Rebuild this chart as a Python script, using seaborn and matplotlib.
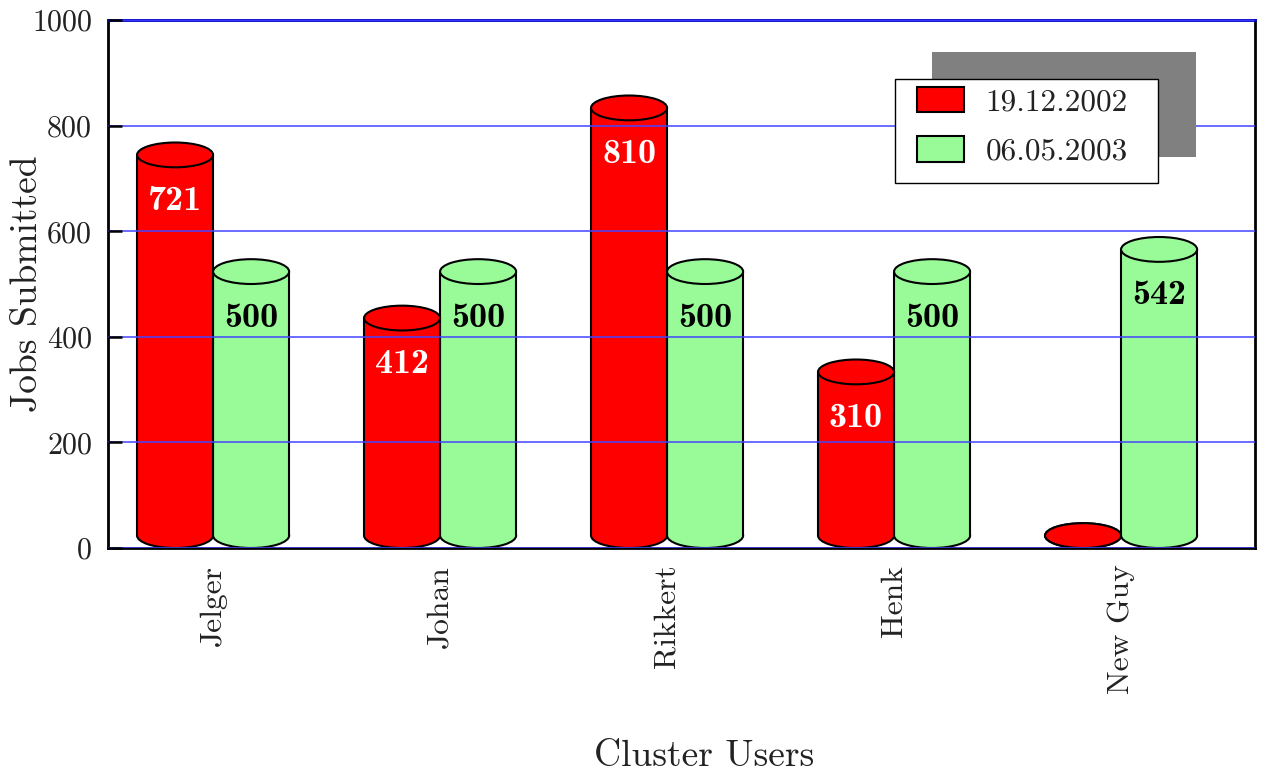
import numpy as np
import pandas as pd
import matplotlib
matplotlib.use("Agg")
import matplotlib.pyplot as plt
import seaborn as sns
from matplotlib.patches import Ellipse, Rectangle, Patch

# ---- data ----
users = ["Jelger", "Johan", "Rikkert", "Henk", "New Guy"]
dates = ["19.12.2002", "06.05.2003"]
jobs_2002 = [721, 412, 810, 310, 0]
jobs_2003 = [500, 500, 500, 500, 542]
y_ticks = [0, 200, 400, 600, 800, 1000]

RED = "#ff0000"
GREEN = "#98fb98"
TXT = "#222222"

sns.set_style("white")
plt.rcParams["font.family"] = ["cmr10", "DejaVu Serif"]
plt.rcParams["axes.formatter.use_mathtext"] = True
plt.rcParams["mathtext.fontset"] = "cm"

df = pd.DataFrame({
    "user": users * 2,
    "jobs": jobs_2002 + jobs_2003,
    "date": [dates[0]] * len(users) + [dates[1]] * len(users),
})

fig = plt.figure(figsize=(12.75, 7.76), dpi=100)
ax = fig.add_axes([108 / 1275, 1 - 548 / 776, 1147 / 1275, 528 / 776])

CAP = 23.5  # half-height of cylinder end caps (data units)

sns.barplot(data=df, x="user", y="jobs", hue="date", order=users,
            hue_order=dates, palette=[RED, GREEN], saturation=1, width=0.67,
            gap=0, bottom=CAP, linewidth=0, edgecolor="none", errorbar=None,
            legend=False, ax=ax, zorder=1)

LW = 1.5
for container, color, vals, tcol in zip(ax.containers, [RED, GREEN],
                                        [jobs_2002, jobs_2003],
                                        ["white", "black"]):
    for bar, v in zip(container, vals):
        x0 = bar.get_x()
        w = bar.get_width()
        y0 = bar.get_y()
        h = bar.get_height()
        cx = x0 + w / 2
        ax.add_patch(Ellipse((cx, y0), w, 2 * CAP, facecolor=color,
                             edgecolor="black", lw=LW, zorder=0.9))
        if h > 0:
            ax.plot([x0, x0], [y0, y0 + h], color="black", lw=LW, zorder=1.1,
                    solid_capstyle="butt")
            ax.plot([x0 + w, x0 + w], [y0, y0 + h], color="black", lw=LW,
                    zorder=1.1, solid_capstyle="butt")
        ax.add_patch(Ellipse((cx, y0 + h), w, 2 * CAP, facecolor=color,
                             edgecolor="black", lw=LW, zorder=1.2))
        if v > 0:
            ax.annotate(f"{v}", xy=(cx, y0 + h - CAP), xytext=(0, -24.5),
                        textcoords="offset points", ha="center", va="center",
                        family="cmb10", fontsize=26, color=tcol, zorder=4)

ax.set_xlim(-0.463, 4.59)
ax.set_ylim(0, 1000)
ax.set_yticks(y_ticks)
ax.set_yticklabels([str(t) for t in y_ticks])

ax.set_axisbelow(False)
ax.yaxis.grid(True, color="#4444ff", lw=1.1)
ax.xaxis.grid(False)

ax.tick_params(axis="y", left=True, direction="in", length=10, width=1.8,
               pad=11.5, labelsize=21.7, labelcolor=TXT, color="black")
ax.tick_params(axis="x", bottom=False, length=0, pad=12, labelsize=22.7,
               labelrotation=90, labelcolor=TXT)

for side in ["left", "right", "bottom"]:
    ax.spines[side].set_color("black")
    ax.spines[side].set_linewidth(2)
    ax.spines[side].set_visible(True)
ax.spines["top"].set_color("#0000cc")
ax.spines["top"].set_linewidth(2)
ax.spines["top"].set_visible(True)

ax.set_ylabel("Jobs Submitted", fontsize=27, color=TXT)
ax.yaxis.label.set_va("center")
ax.yaxis.set_label_coords(-0.0706, 0.5)
ax.set_xlabel("Cluster Users", fontsize=27, color=TXT)
ax.xaxis.label.set_va("center")
ax.xaxis.set_label_coords(0.5196, -0.394)

# ---- legend with offset shadow ----
ax.add_patch(Rectangle((0.7184, 0.7405), 0.2302, 0.1989, transform=ax.transAxes,
                       facecolor="#808080", edgecolor="none", zorder=3))
ax.add_patch(Rectangle((0.686, 0.691), 0.2295, 0.197, transform=ax.transAxes,
                       facecolor="white", edgecolor="black", lw=1, zorder=3.1))
handles = [Patch(facecolor=RED, edgecolor="black", lw=1.5),
           Patch(facecolor=GREEN, edgecolor="black", lw=1.5)]
leg = ax.legend(handles, dates, loc="upper left", bbox_to_anchor=(0.7053, 0.874),
                frameon=False, borderpad=0, borderaxespad=0, fontsize=22.5,
                handlelength=1.5, handleheight=0.9, handletextpad=0.7,
                labelspacing=0.62)
for t in leg.get_texts():
    t.set_color(TXT)
leg.set_zorder(5)

fig.savefig("out.png", dpi=100)
